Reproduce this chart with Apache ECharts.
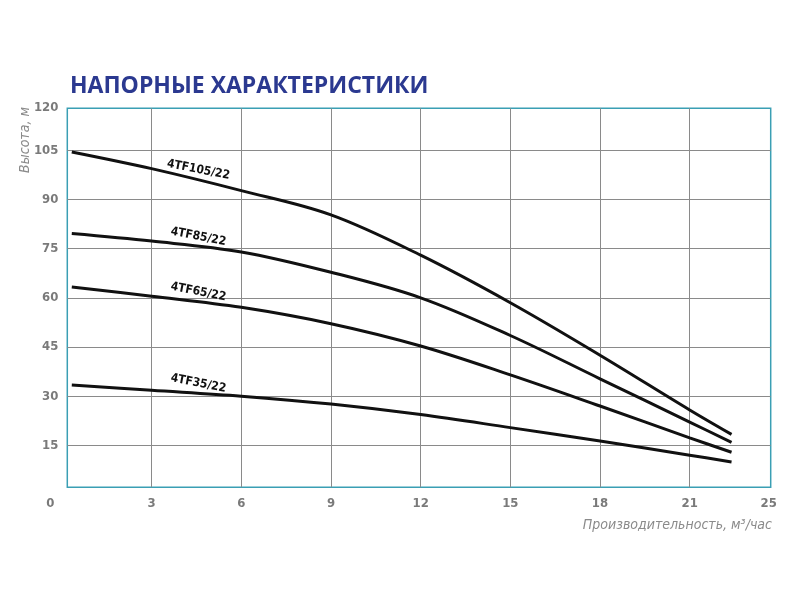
<!DOCTYPE html>
<html><head><meta charset="utf-8">
<script src="https://cdn.jsdelivr.net/npm/echarts@6/dist/echarts.min.js"></script>
<style>html,body{margin:0;padding:0;background:#fff}#c{width:800px;height:600px}</style>
</head><body><div id="c"></div>
<script>
// Flow (m3/h) sample points and head (m) for each pump
const flow = [0.33, 3, 6, 9, 12, 15, 18, 21, 22.4];
const head105 = [104.5, 99.4, 92.7, 85.3, 73.0, 58.5, 42.5, 25.8, 18.35];
const head85  = [79.6, 77.3, 74.0, 67.8, 60.0, 48.5, 35.3, 22.1, 15.9];
const head65  = [63.3, 60.5, 57.1, 52.1, 45.3, 36.5, 27.0, 17.3, 12.9];
const head35  = [33.4, 31.8, 30.0, 27.6, 24.4, 20.4, 16.3, 12.0, 9.9];
const seriesNames = ['4TF105/22', '4TF85/22', '4TF65/22', '4TF35/22'];
const seriesHeads = [head105, head85, head65, head35];

// Axis extents and tick labels
const xMin = 0.18, xMax = 23.71;
const yMin = 2.2, yMax = 117.8;
const xTicks = [3, 6, 9, 12, 15, 18, 21];
const xTickLabels = ['3', '6', '9', '12', '15', '18', '21'];
const xEndLabels = ['0', '25'];
const yTicks = [15, 30, 45, 60, 75, 90, 105];
const yTickLabels = ['15', '30', '45', '60', '75', '90', '105'];
const yEndLabel = '120';
const labelFlow = 4.5;

const titleText = 'НАПОРНЫЕ ХАРАКТЕРИСТИКИ';
const yName = 'Высота, м';
const xName = 'Производительность, м³/час';

const condensed = '"Liberation Sans Narrow","DejaVu Sans Condensed","Open Sans",sans-serif';

function interp(xs, ys, x) {
  for (let i = 0; i < xs.length - 1; i++) {
    if (x >= xs[i] && x <= xs[i + 1]) {
      return ys[i] + (ys[i + 1] - ys[i]) * (x - xs[i]) / (xs[i + 1] - xs[i]);
    }
  }
  return ys[0];
}

const chart = echarts.init(document.getElementById('c'), null, {renderer: 'canvas'});
const series = seriesNames.map((name, k) => ({
  name: name,
  type: 'line',
  smooth: 0.35,
  symbol: 'none',
  data: flow.map((f, i) => [f, seriesHeads[k][i]]),
  lineStyle: {color: '#111', width: 3},
  markPoint: {
    symbol: 'circle',
    symbolSize: 1,
    itemStyle: {color: 'rgba(0,0,0,0)'},
    label: {
      show: true,
      formatter: name,
      position: 'inside',
      offset: [0, -10],
      rotate: -11,
      color: '#111',
      fontFamily: condensed,
      fontWeight: 'bold',
      fontSize: 12
    },
    data: [{coord: [labelFlow, interp(flow, seriesHeads[k], labelFlow)]}]
  }
}));

chart.setOption({
  animation: false,
  backgroundColor: '#fff',
  title: {
    text: titleText,
    left: 65, top: 70,
    textStyle: {color: '#2b3990', fontFamily: '"Open Sans",sans-serif', fontWeight: 'bold', fontSize: 23}
  },
  grid: {
    left: 67.3, top: 108.3, right: 29.3, bottom: 112.7,
    show: true, borderColor: '#3a9fb4', borderWidth: 1.5, backgroundColor: 'transparent'
  },
  xAxis: {
    type: 'value', min: xMin, max: xMax,
    axisLine: {show: false},
    axisTick: {show: false, customValues: xTicks},
    splitLine: {show: true, lineStyle: {color: '#8a8a8a', width: 1}},
    axisLabel: {
      customValues: [xMin].concat(xTicks, [xMax]),
      margin: 10,
      color: '#7a7a7a', fontFamily: condensed, fontWeight: 'bold', fontSize: 13,
      formatter: function (v) {
        if (v === xMin) return '{z|' + xEndLabels[0] + '}';
        if (v === xMax) return '{e|' + xEndLabels[1] + '}';
        const i = xTicks.indexOf(v);
        return i >= 0 ? xTickLabels[i] : '';
      },
      rich: {
        z: {color: '#7a7a7a', fontFamily: condensed, fontWeight: 'bold', fontSize: 13, padding: [0, 34, 0, 0]},
        e: {color: '#7a7a7a', fontFamily: condensed, fontWeight: 'bold', fontSize: 13, padding: [0, 4, 6, 0]}
      }
    }
  },
  yAxis: {
    type: 'value', min: yMin, max: yMax,
    axisLine: {show: false},
    axisTick: {show: false, customValues: yTicks},
    splitLine: {show: true, lineStyle: {color: '#8a8a8a', width: 1}},
    axisLabel: {
      customValues: yTicks.concat([yMax]),
      margin: 9,
      color: '#7a7a7a', fontFamily: condensed, fontWeight: 'bold', fontSize: 13,
      formatter: function (v) {
        if (v === yMax) return '{t|' + yEndLabel + '}';
        const i = yTicks.indexOf(v);
        return i >= 0 ? yTickLabels[i] : '';
      },
      rich: {
        t: {color: '#7a7a7a', fontFamily: condensed, fontWeight: 'bold', fontSize: 13, padding: [0, 0, 2, 0]}
      }
    }
  },
  graphic: [
    {
      type: 'text', x: 25, y: 140, rotation: Math.PI / 2,
      style: {text: yName, align: 'center', verticalAlign: 'middle', fill: '#8a8a8a',
        font: 'italic 14px ' + condensed}
    },
    {
      type: 'text', x: 772, y: 525,
      style: {text: xName, align: 'right', verticalAlign: 'middle', fill: '#8a8a8a',
        font: 'italic 14px ' + condensed}
    }
  ],
  series: series
});
</script>
</body></html>
